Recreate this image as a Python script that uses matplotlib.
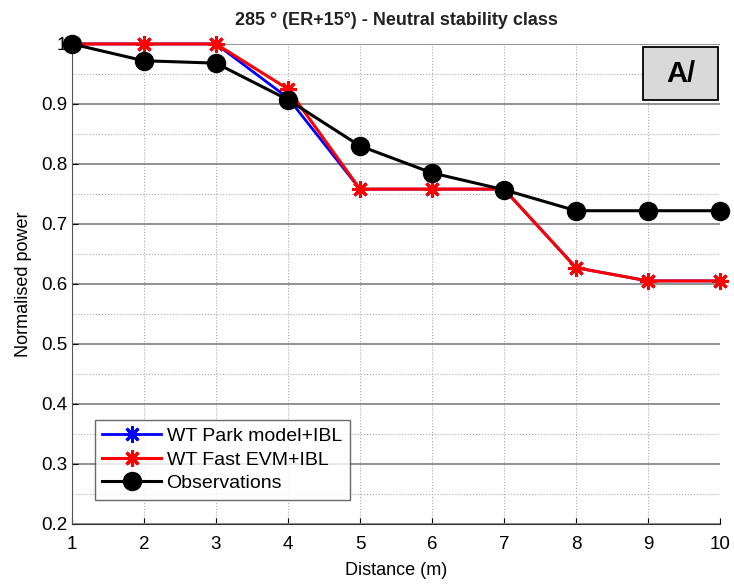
import numpy as np
import matplotlib.pyplot as plt
from matplotlib.patches import Rectangle
from matplotlib.ticker import MultipleLocator

plt.rcParams['font.family'] = ['Liberation Sans', 'DejaVu Sans']

# data
distance = [1, 2, 3, 4, 5, 6, 7, 8, 9, 10]
park_ibl = [1.0, 1.0, 1.0, 0.91, 0.758, 0.758, 0.758, 0.627, 0.605, 0.605]
fast_evm_ibl = [1.0, 1.0, 1.0, 0.925, 0.758, 0.758, 0.758, 0.627, 0.605, 0.605]
observations = [1.0, 0.972, 0.968, 0.907, 0.83, 0.785, 0.757, 0.722, 0.722, 0.722]

fig = plt.figure(figsize=(7.34, 5.86), dpi=100)
ax = fig.add_axes([0.098, 0.106, 0.883, 0.819])

star = (8, 2, 0)
ax.plot(distance, park_ibl, color='#0000ff', lw=2, marker=star, ms=12, mew=2,
        mec='#0000ff', label='WT Park model+IBL', zorder=3, clip_on=False)
ax.plot(distance, fast_evm_ibl, color='#ff0000', lw=2.2, marker=star, ms=12, mew=2.2,
        mec='#ff0000', label='WT Fast EVM+IBL', zorder=4, clip_on=False)
ax.plot(distance, observations, color='black', lw=2.2, marker='o', ms=13,
        label='Observations', zorder=5, clip_on=False)

ax.set_xlim(1, 10)
ax.set_ylim(0.2, 1.0)
ax.xaxis.set_major_locator(MultipleLocator(1))
ax.yaxis.set_minor_locator(MultipleLocator(0.05))
ax.set_yticks(np.arange(0.2, 1.01, 0.1))
ax.set_yticklabels(['0.2', '0.3', '0.4', '0.5', '0.6', '0.7', '0.8', '0.9', '1'])

ax.grid(which='major', axis='y', color='#888888', lw=1.3, ls='-')
ax.grid(which='minor', axis='y', color='#aaaaaa', lw=0.8, ls=':')
ax.grid(which='major', axis='x', color='#aaaaaa', lw=0.8, ls=':')
ax.set_axisbelow(True)

ax.tick_params(which='both', direction='in', labelsize=13.5, length=4)
ax.tick_params(which='minor', length=0)
ax.tick_params(axis='x', pad=9)
for s in ['top', 'right']:
    ax.spines[s].set_visible(False)
ax.spines['left'].set_color('#555555')
ax.spines['bottom'].set_color('#333333')

ax.set_title('285 ° (ER+15°) - Neutral stability class', fontsize=13,
             fontweight='bold', color='#222222', pad=14)
ax.set_xlabel('Distance (m)', fontsize=13, labelpad=6)
ax.set_ylabel('Normalised power', fontsize=13, labelpad=6)

leg = ax.legend(loc='lower left', bbox_to_anchor=(0.02, 0.03), fontsize=14,
                frameon=True, fancybox=False, edgecolor='#444444',
                handlelength=3.0, borderpad=0.4, labelspacing=0.3,
                handletextpad=0.3)
leg.get_frame().set_linewidth(1.0)

# panel label box
ax.add_patch(Rectangle((0.881, 0.883), 0.116, 0.111, transform=ax.transAxes,
                       fc='#d9d9d9', ec='black', lw=1.3, zorder=6, clip_on=False))
ax.text(0.939, 0.937, 'A/', transform=ax.transAxes, ha='center', va='center',
        fontsize=21, fontweight='bold', zorder=7)

fig.savefig('out.png', dpi=100)
